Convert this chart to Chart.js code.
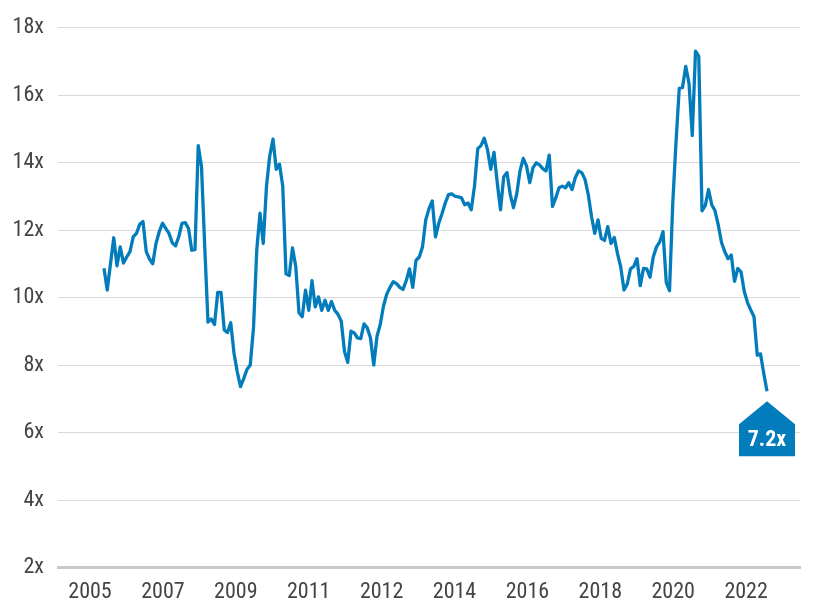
<!DOCTYPE html>
<html><head><meta charset="utf-8">
<script src="https://cdn.jsdelivr.net/npm/chart.js@4.4.1/dist/chart.umd.min.js"></script>
<style>html,body{margin:0;padding:0;background:#fff;} #wrap{width:814px;height:616px;}</style>
</head><body><div id="wrap"><canvas id="c" width="814" height="616"></canvas></div>
<script>
const peValues = [
10.87,10.22,11.0,11.77,10.94,11.5,11.02,11.2,11.36,11.8,
11.9,12.17,12.25,11.36,11.14,11.0,11.6,11.95,12.2,12.05,
11.9,11.62,11.53,11.8,12.2,12.22,12.05,11.4,11.42,14.5,
13.88,11.5,9.27,9.36,9.2,10.15,10.15,9.04,8.96,9.25,
8.35,7.8,7.36,7.6,7.87,8.0,9.1,11.4,12.5,11.6,
13.3,14.2,14.69,13.8,13.95,13.3,10.7,10.65,11.47,10.92,
9.55,9.43,10.22,9.62,10.5,9.72,10.02,9.62,9.92,9.62,
9.88,9.62,9.5,9.3,8.4,8.08,9.0,8.95,8.8,8.78,
9.22,9.1,8.8,8.0,8.85,9.2,9.75,10.1,10.3,10.47,
10.41,10.3,10.24,10.5,10.85,10.3,11.1,11.2,11.5,12.3,
12.63,12.86,11.8,12.2,12.48,12.8,13.05,13.07,13.0,12.98,
12.95,12.75,12.8,12.6,13.3,14.41,14.5,14.72,14.38,13.8,
14.3,13.4,12.6,13.58,13.7,13.05,12.66,13.07,13.75,14.12,
13.9,13.4,13.85,13.99,13.93,13.82,13.75,14.22,12.7,12.95,
13.25,13.3,13.25,13.4,13.2,13.55,13.75,13.7,13.5,13.05,
12.4,11.9,12.3,11.75,11.69,12.1,11.6,11.78,11.3,10.9,
10.22,10.4,10.85,10.92,11.15,10.35,10.86,10.85,10.6,11.2,
11.5,11.65,11.95,10.45,10.2,12.8,14.6,16.2,16.22,16.85,
16.35,14.8,17.3,17.15,12.57,12.72,13.2,12.75,12.57,12.15,
11.63,11.36,11.15,11.26,10.48,10.86,10.76,10.18,9.85,9.63,
9.43,8.29,8.33,7.75,7.22
];
const xTickLabels = ['2005','2007','2009','2011','2012','2014','2016','2018','2020','2022'];
const periods = peValues.map((_, i) => i);

const FONT = "'Roboto Condensed','Liberation Sans Narrow','DejaVu Sans Condensed',Roboto,sans-serif";
const BLUE = '#037cbb';

const calloutPlugin = {
  id: 'callout',
  afterDatasetsDraw(chart) {
    const meta = chart.getDatasetMeta(0);
    const pt = meta.data[meta.data.length - 1];
    const ctx = chart.ctx;
    const x = pt.x, y = pt.y;
    ctx.save();
    ctx.fillStyle = BLUE;
    ctx.beginPath();
    ctx.moveTo(x, y + 10);
    ctx.lineTo(x + 28, y + 33);
    ctx.lineTo(x + 28, y + 65);
    ctx.lineTo(x - 28, y + 65);
    ctx.lineTo(x - 28, y + 33);
    ctx.closePath();
    ctx.fill();
    ctx.fillStyle = '#ffffff';
    ctx.font = "bold 22px " + FONT;
    ctx.textAlign = 'center';
    ctx.textBaseline = 'middle';
    ctx.fillText(peValues[peValues.length - 1].toFixed(1) + 'x', x, y + 49);
    ctx.restore();
  }
};

new Chart(document.getElementById('c'), {
  type: 'line',
  data: {
    datasets: [{
      data: periods.map(i => ({ x: i, y: peValues[i] })),
      borderColor: BLUE,
      borderWidth: 3.3,
      pointRadius: 0,
      tension: 0,
      fill: false,
      borderJoinStyle: 'round'
    }]
  },
  options: {
    responsive: false,
    animation: false,
    devicePixelRatio: 1,
    layout: { padding: { top: 27.5, right: 14, left: 0, bottom: 0 } },
    plugins: { legend: { display: false }, tooltip: { enabled: false } },
    scales: {
      x: {
        type: 'linear',
        min: -14.15,
        max: 214.15,
        grid: { display: false },
        border: { display: true, color: '#c9c9c9', width: 3 },
        afterBuildTicks(axis) {
          axis.ticks = xTickLabels.map((_, k) => ({ value: -4.3 + 22.43 * k }));
        },
        ticks: {
          autoSkip: false, maxRotation: 0, padding: 4, color: '#444444',
          font: { family: FONT, size: 22 },
          callback: (v, idx) => xTickLabels[idx]
        },
        afterFit(s) { s.height = 48.5; }
      },
      y: {
        min: 2, max: 18,
        ticks: {
          stepSize: 2, padding: 14, color: '#444444',
          font: { family: FONT, size: 22 },
          callback: v => v + 'x'
        },
        grid: { color: '#d9d9d9', lineWidth: 1, drawTicks: false },
        border: { display: false },
        afterFit(s) { s.width = 58; }
      }
    }
  },
  plugins: [calloutPlugin]
});
</script>
</body></html>
